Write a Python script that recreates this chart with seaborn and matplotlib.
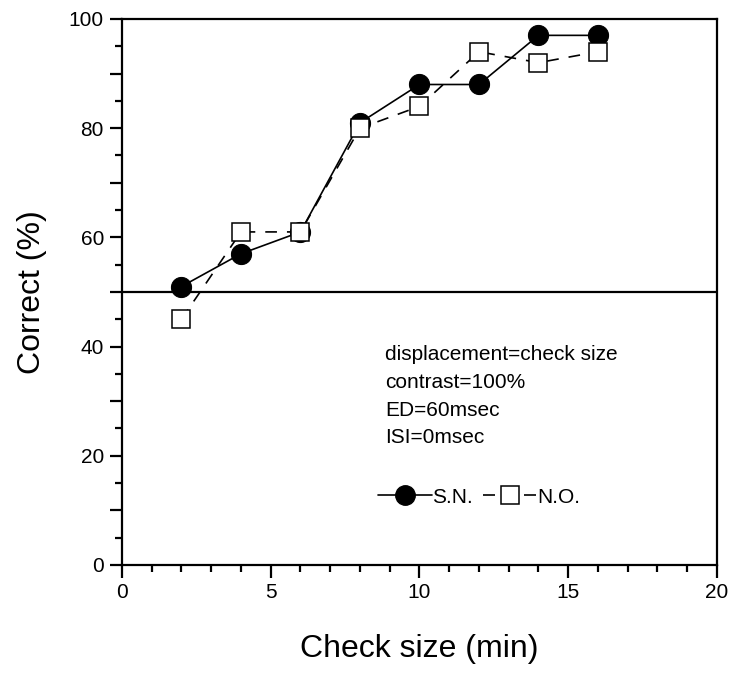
import matplotlib
matplotlib.use("Agg")
import matplotlib.pyplot as plt
from matplotlib.lines import Line2D
from matplotlib.ticker import MultipleLocator, FuncFormatter
import numpy as np
import pandas as pd
import seaborn as sns

check_size = [2, 4, 6, 8, 10, 12, 14, 16]
sn_correct = [51, 57, 61, 81, 88, 88, 97, 97]
no_correct = [45, 61, 61, 80, 84, 94, 92, 94]
x_ticks = [0, 5, 10, 15, 20]
y_labelled = [0, 20, 40, 60, 80, 100]
chance_level = 50
conditions = ["displacement=check size", "contrast=100%", "ED=60msec", "ISI=0msec"]

sns.set_theme(style="white")
plt.rcParams["font.family"] = ["Liberation Sans", "DejaVu Sans"]
plt.rcParams["text.color"] = "black"
plt.rcParams["axes.labelcolor"] = "black"

df = pd.DataFrame({"size": check_size, "S.N.": sn_correct, "N.O.": no_correct})

fig = plt.figure(figsize=(7.41, 6.73), dpi=100)
ax = fig.add_axes([0.1646, 0.1605, 0.803, 0.8113])

ax.axhline(chance_level, color="black", lw=1.6, zorder=1)

sns.lineplot(data=df, x="size", y="S.N.", ax=ax, color="black", lw=1.2,
             marker="o", markersize=14.5, markerfacecolor="black",
             markeredgecolor="black", zorder=3)
sns.lineplot(data=df, x="size", y="N.O.", ax=ax, color="black", lw=1.2,
             linestyle=(0, (7, 6)), marker="s", markersize=13.5,
             markerfacecolor="white", markeredgecolor="black",
             markeredgewidth=1.1, zorder=4)

ax.set_xlim(0, 20)
ax.set_ylim(0, 100)
ax.set_xticks(x_ticks)
ax.yaxis.set_major_locator(MultipleLocator(10))
ax.yaxis.set_major_formatter(FuncFormatter(
    lambda v, _: f"{int(round(v))}" if int(round(v)) in y_labelled else ""))
ax.xaxis.set_minor_locator(MultipleLocator(1))
ax.yaxis.set_minor_locator(MultipleLocator(5))
ax.tick_params(axis="both", which="major", direction="out", length=9, width=1.6,
               labelsize=15, color="black", labelcolor="black")
ax.tick_params(axis="both", which="minor", direction="out", length=5, width=1.6,
               color="black")
ax.tick_params(axis="x", which="major", pad=4)
ax.tick_params(axis="y", which="major", pad=4)
ax.tick_params(bottom=True, left=True, which="both")

for side in ["left", "bottom", "top", "right"]:
    ax.spines[side].set_visible(True)
    ax.spines[side].set_color("black")
    ax.spines[side].set_linewidth(1.6)

ax.set_xlabel("Check size (min)", fontsize=23, labelpad=23, color="black")
ax.set_ylabel("Correct (%)", fontsize=23, labelpad=16, color="black")

for i, line in enumerate(conditions):
    ax.text(0.442, 0.3846 - i * 0.0504, line, transform=ax.transAxes,
            fontsize=15, color="black", va="center", ha="left")

handles = [
    Line2D([], [], color="black", lw=1.2, marker="o", markersize=14,
           markerfacecolor="black"),
    Line2D([], [], color="black", lw=1.2, linestyle=(0, (7.2, 17.4)), marker="s",
           markersize=13.5, markerfacecolor="white", markeredgewidth=1.1),
]
ax.legend(handles, ["S.N.", "N.O."], loc="center left",
          bbox_to_anchor=(0.430, 0.1245), ncol=2, frameon=False, fontsize=15,
          handlelength=2.6, handletextpad=0.0, columnspacing=0.5,
          borderpad=0, borderaxespad=0, labelcolor="black")

fig.savefig("out.png", dpi=100)
